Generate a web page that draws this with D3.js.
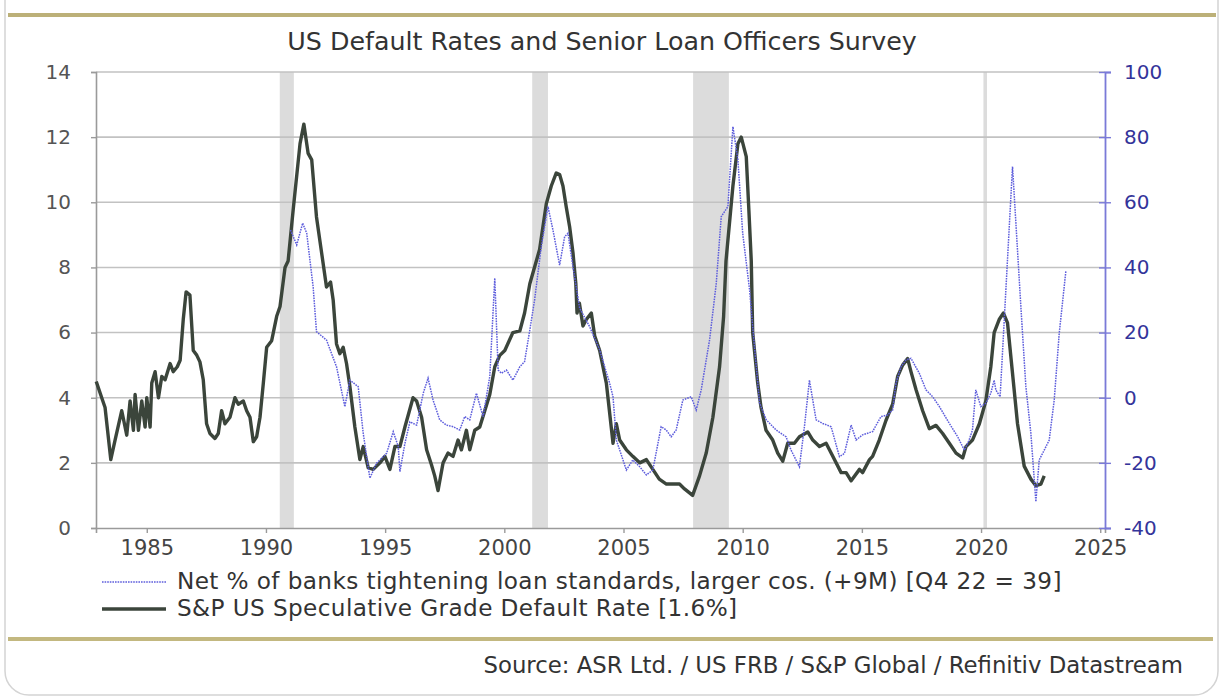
<!DOCTYPE html>
<html>
<head>
  <meta charset="utf-8">
  <script src="https://cdn.jsdelivr.net/npm/d3@7"></script>
  <style>
    body { margin: 0; background: #fff; }
    text { font-family: "DejaVu Sans", Verdana, sans-serif; }
  </style>
</head>
<body>
<script>
// S&P US speculative grade default rate (%), left axis
var defaultYears = [1982.88, 1983.11, 1983.25, 1983.49, 1983.67, 1983.95, 1984.16, 1984.3, 1984.44, 1984.51,
  1984.65, 1984.79, 1984.93, 1985.0, 1985.14, 1985.21, 1985.35, 1985.49, 1985.63, 1985.77,
  1985.98, 1986.11, 1986.28, 1986.4, 1986.53, 1986.65, 1986.81, 1986.95, 1987.1, 1987.23,
  1987.37, 1987.51, 1987.65, 1987.86, 1988.0, 1988.14, 1988.28, 1988.49, 1988.7, 1988.84,
  1989.05, 1989.19, 1989.33, 1989.47, 1989.61, 1989.75, 1989.89, 1990.03, 1990.24, 1990.45,
  1990.59, 1990.8, 1990.93, 1991.14, 1991.43, 1991.59, 1991.77, 1991.92, 1992.12, 1992.54,
  1992.71, 1992.82, 1992.96, 1993.1, 1993.24, 1993.38, 1993.52, 1993.73, 1993.94, 1994.08,
  1994.29, 1994.5, 1994.78, 1994.99, 1995.2, 1995.41, 1995.62, 1995.83, 1996.17, 1996.32,
  1996.53, 1996.74, 1996.94, 1997.08, 1997.22, 1997.43, 1997.64, 1997.85, 1998.06, 1998.2,
  1998.41, 1998.55, 1998.76, 1998.97, 1999.18, 1999.39, 1999.6, 1999.81, 2000.02, 2000.36,
  2000.65, 2000.85, 2001.07, 2001.48, 2001.76, 2001.97, 2002.18, 2002.32, 2002.46, 2002.6,
  2002.74, 2002.88, 2003.0, 2003.05, 2003.15, 2003.3, 2003.44, 2003.65, 2003.79, 2004.0,
  2004.28, 2004.56, 2004.7, 2004.84, 2005.12, 2005.39, 2005.68, 2005.96, 2006.23, 2006.5,
  2006.8, 2007.35, 2007.56, 2007.9, 2008.19, 2008.47, 2008.75, 2009.03, 2009.2, 2009.3,
  2009.59, 2009.8, 2009.94, 2010.15, 2010.26, 2010.36, 2010.42, 2010.63, 2010.77, 2010.98,
  2011.26, 2011.47, 2011.68, 2011.89, 2012.17, 2012.38, 2012.73, 2012.94, 2013.22, 2013.5,
  2013.78, 2014.13, 2014.34, 2014.55, 2014.9, 2015.03, 2015.32, 2015.45, 2015.73, 2016.01,
  2016.29, 2016.5, 2016.71, 2016.92, 2017.06, 2017.27, 2017.55, 2017.83, 2018.11, 2018.39,
  2018.67, 2018.95, 2019.23, 2019.37, 2019.64, 2019.93, 2020.2, 2020.41, 2020.55, 2020.76,
  2020.94, 2021.11, 2021.32, 2021.53, 2021.81, 2022.09, 2022.3, 2022.51, 2022.65];
var defaultRate = [4.5, 4.0, 3.7, 2.1, 2.7, 3.6, 2.85, 3.9, 3.0, 4.1,
  3.0, 3.9, 3.1, 4.0, 3.1, 4.45, 4.8, 4.0, 4.65, 4.55,
  5.05, 4.8, 4.95, 5.15, 6.4, 7.25, 7.15, 5.45, 5.3, 5.1,
  4.55, 3.2, 2.9, 2.75, 2.9, 3.6, 3.2, 3.4, 4.0, 3.8,
  3.9, 3.6, 3.4, 2.65, 2.8, 3.4, 4.45, 5.55, 5.75, 6.5,
  6.8, 8.0, 8.2, 9.75, 11.8, 12.4, 11.5, 11.3, 9.55, 7.4,
  7.55, 7.0, 5.65, 5.35, 5.55, 5.05, 4.35, 3.1, 2.1, 2.5,
  1.85, 1.8, 2.0, 2.2, 1.8, 2.5, 2.5, 3.1, 4.0, 3.9,
  3.4, 2.4, 1.95, 1.6, 1.15, 2.0, 2.3, 2.2, 2.7, 2.4,
  3.0, 2.4, 3.0, 3.1, 3.6, 4.1, 4.95, 5.3, 5.45, 6.0,
  6.05, 6.6, 7.5, 8.55, 9.95, 10.5, 10.9, 10.85, 10.5, 9.85,
  9.25, 8.45, 7.5, 6.6, 6.9, 6.2, 6.4, 6.6, 5.9, 5.45,
  4.45, 2.6, 3.2, 2.7, 2.4, 2.2, 2.0, 2.1, 1.8, 1.5,
  1.35, 1.35, 1.2, 1.0, 1.6, 2.3, 3.4, 4.95, 6.5, 8.2,
  10.5, 11.8, 12.0, 11.4, 9.75, 8.2, 6.0, 4.45, 3.7, 3.0,
  2.7, 2.3, 2.05, 2.6, 2.6, 2.8, 2.95, 2.7, 2.5, 2.6,
  2.2, 1.7, 1.7, 1.45, 1.8, 1.7, 2.1, 2.2, 2.7, 3.3,
  3.8, 4.65, 5.0, 5.2, 4.8, 4.25, 3.6, 3.05, 3.15, 2.9,
  2.6, 2.3, 2.15, 2.5, 2.7, 3.2, 3.9, 4.95, 6.0, 6.4,
  6.6, 6.3, 4.75, 3.2, 1.9, 1.5, 1.3, 1.35, 1.6];

// Net % of banks tightening standards, larger firms, shifted +9M (right axis)
var surveyYears = [1991.03, 1991.29, 1991.54, 1991.71, 1991.98, 1992.12, 1992.54, 1992.96, 1993.31, 1993.52,
  1993.87, 1994.08, 1994.36, 1994.64, 1995.06, 1995.34, 1995.55, 1995.62, 1995.83, 1996.04,
  1996.32, 1996.6, 1996.8, 1997.01, 1997.29, 1997.57, 1997.85, 1998.13, 1998.34, 1998.55,
  1998.83, 1999.11, 1999.39, 1999.6, 1999.74, 1999.88, 2000.09, 2000.36, 2000.65, 2000.85,
  2001.07, 2001.27, 2001.55, 2001.83, 2002.04, 2002.32, 2002.53, 2002.67, 2002.88, 2003.16,
  2003.58, 2004.0, 2004.42, 2004.56, 2004.7, 2005.12, 2005.39, 2005.68, 2005.96, 2006.23,
  2006.58, 2006.79, 2007.0, 2007.21, 2007.49, 2007.84, 2008.05, 2008.26, 2008.61, 2008.89,
  2009.1, 2009.38, 2009.59, 2009.8, 2010.0, 2010.29, 2010.42, 2010.71, 2010.99, 2011.4,
  2011.82, 2012.03, 2012.38, 2012.59, 2012.8, 2013.08, 2013.36, 2013.71, 2014.06, 2014.27,
  2014.55, 2014.76, 2015.03, 2015.45, 2015.8, 2016.08, 2016.29, 2016.43, 2016.64, 2016.85,
  2017.06, 2017.41, 2017.69, 2017.97, 2018.25, 2018.67, 2019.02, 2019.3, 2019.5, 2019.64,
  2019.78, 2019.99, 2020.2, 2020.41, 2020.55, 2020.62, 2020.8, 2021.32, 2021.67, 2021.88,
  2022.09, 2022.3, 2022.44, 2022.65, 2022.86, 2023.07, 2023.28, 2023.56];
var surveyNet = [51.5, 46.9, 53.6, 50.5, 34, 20.3, 17.7, 9.5, -2.75, 5.4,
  3.4, -10.9, -24.7, -20.1, -17.1, -10.4, -15, -22.7, -14, -7.4,
  -8.4, 1.4, 6.0, -0.7, -6.8, -8.4, -8.9, -9.9, -5.8, -6.8,
  1.4, -5.8, 6.5, 36.7, 8.5, 7.5, 8.5, 5.4, 9.5, 11.1,
  20.8, 30, 46.4, 58.7, 51.5, 40.7, 49.4, 50.5, 40.2, 27.5,
  21.8, 14.7, 4.4, 0.3, -13, -22.2, -19.1, -21.2, -23.7, -22.2,
  -8.9, -9.9, -12, -9.9, -0.7, 0.3, -3.8, 2.4, 17.7, 35,
  55.6, 58.7, 83.2, 73, 50.5, 33.1, 21.8, -1.7, -6.8, -9.9,
  -12, -16.1, -21.2, -8.9, 5.4, -6.8, -7.9, -8.9, -18.1, -17.1,
  -8.4, -13, -11.4, -10.4, -5.8, -5.3, -3.8, 4.4, 9.5, 11.6,
  12.1, 7.5, 2.4, 0.3, -2.7, -7.9, -12, -16.1, -13, -9.9,
  2.4, -2.7, -1.7, 1.4, 5.4, 2.4, 0.3, 71, 28, 3.4,
  -10.9, -31.9, -19.1, -16.1, -13, -0.7, 19.8, 39];

// NBER recessions [start, end]
var recessionStart = [1990.58, 2001.17, 2007.92, 2020.1];
var recessionEnd = [1991.17, 2001.83, 2009.42, 2020.25];

var xTicks = [1985, 1990, 1995, 2000, 2005, 2010, 2015, 2020, 2025];
var leftTicks = [0, 2, 4, 6, 8, 10, 12, 14];
var rightTicks = [-40, -20, 0, 20, 40, 60, 80, 100];

var chartTitle = "US Default Rates and Senior Loan Officers Survey";
var legendLabels = ["Net % of banks tightening loan standards, larger cos. (+9M) [Q4 22 = 39]",
  "S&P US Speculative Grade Default Rate [1.6%]"];
var sourceText = "Source: ASR Ltd. / US FRB / S&P Global / Refinitiv Datastream";

var W = 1223, H = 698;
var plotL = 96, plotR = 1105, plotT = 72, plotB = 528;

var svg = d3.select("body").append("svg")
  .attr("width", W).attr("height", H);

// card frame
svg.append("rect")
  .attr("x", 5).attr("y", -30).attr("width", 1213).attr("height", 725)
  .attr("rx", 24)
  .attr("fill", "#fff").attr("stroke", "#d4d4d4").attr("stroke-width", 1.5);

// gold rules
svg.append("line").attr("x1", 8).attr("x2", 1216).attr("y1", 15).attr("y2", 15)
  .attr("stroke", "#bcb078").attr("stroke-width", 4);
svg.append("line").attr("x1", 8).attr("x2", 1213).attr("y1", 639).attr("y2", 639)
  .attr("stroke", "#c3b880").attr("stroke-width", 4);

var x = d3.scaleLinear().domain([1982.87, 2025.2]).range([plotL, plotR]);
var yL = d3.scaleLinear().domain([0, 14]).range([plotB, plotT]);
var yR = d3.scaleLinear().domain([-40, 100]).range([plotB, plotT]);

// recession shading
svg.append("g").selectAll("rect")
  .data(recessionStart)
  .enter().append("rect")
  .attr("x", function (d) { return x(d); })
  .attr("y", plotT)
  .attr("width", function (d, i) { return Math.max(3, x(recessionEnd[i]) - x(d)); })
  .attr("height", plotB - plotT)
  .attr("fill", "#dcdcdc");

// gridlines
svg.append("g").selectAll("line")
  .data(leftTicks.filter(function (d) { return d > 0; }))
  .enter().append("line")
  .attr("x1", plotL).attr("x2", plotR)
  .attr("y1", function (d) { return yL(d); })
  .attr("y2", function (d) { return yL(d); })
  .attr("stroke", "#c2c2c2").attr("stroke-width", 1.6);

// axes
var xAxis = svg.append("g")
  .attr("transform", "translate(0," + plotB + ")")
  .call(d3.axisBottom(x).tickValues(xTicks).tickFormat(d3.format("d")).tickSize(5).tickPadding(6));
var leftAxis = svg.append("g")
  .attr("transform", "translate(" + plotL + ",0)")
  .call(d3.axisLeft(yL).tickValues(leftTicks).tickSize(5).tickPadding(20));
var rightAxis = svg.append("g")
  .attr("transform", "translate(" + plotR + ",0)")
  .call(d3.axisRight(yR).tickValues(rightTicks)
    .tickFormat(function (d) { return String(d); })
    .tickSize(6).tickPadding(13));

xAxis.select(".domain").attr("stroke", "#9a9a9a").attr("stroke-width", 1.6);
leftAxis.select(".domain").attr("stroke", "#9a9a9a").attr("stroke-width", 1.6);
xAxis.selectAll(".tick line").attr("stroke", "#9a9a9a").attr("stroke-width", 1.4);
leftAxis.selectAll(".tick line").attr("stroke", "#9a9a9a").attr("stroke-width", 1.4);
rightAxis.select(".domain").attr("stroke", "#7a7ad8").attr("stroke-width", 1.8);
rightAxis.selectAll(".tick line").attr("stroke", "#7a7ad8").attr("stroke-width", 1.4)
  .attr("x1", -6);

xAxis.selectAll("text").attr("font-size", 21).attr("fill", "#444")
  .style("font-family", "'DejaVu Sans', sans-serif").attr("dy", "0.75em");
leftAxis.selectAll("text").attr("font-size", 20).attr("fill", "#555")
  .style("font-family", "'DejaVu Sans', sans-serif");
rightAxis.selectAll("text").attr("font-size", 20).attr("fill", "#34349a")
  .style("font-family", "'DejaVu Sans', sans-serif");

// series
var lineL = d3.line()
  .x(function (d) { return x(d[0]); })
  .y(function (d) { return yL(d[1]); });
var lineR = d3.line()
  .x(function (d) { return x(d[0]); })
  .y(function (d) { return yR(d[1]); });

svg.append("path")
  .datum(defaultYears.map(function (d, i) { return [d, defaultRate[i]]; }))
  .attr("d", lineL)
  .attr("fill", "none")
  .attr("stroke", "#3b453b")
  .attr("stroke-width", 3.4)
  .attr("stroke-linejoin", "round");

svg.append("path")
  .datum(surveyYears.map(function (d, i) { return [d, surveyNet[i]]; }))
  .attr("d", lineR)
  .attr("fill", "none")
  .attr("stroke", "#5d5ddc")
  .attr("stroke-width", 1.5)
  .attr("stroke-dasharray", "1.6,1");

// fit text to a width
function fit(sel, width) {
  var base = +sel.attr("font-size");
  var len = sel.node().getComputedTextLength();
  sel.attr("font-size", base * width / len);
}

// title
var t = svg.append("text")
  .attr("x", 602).attr("y", 43)
  .attr("text-anchor", "middle")
  .attr("dominant-baseline", "middle")
  .attr("font-size", 21).attr("fill", "#333")
  .text(chartTitle);
fit(t, 630);

// legend
var legendY = [582, 609];
svg.append("line")
  .attr("x1", 102).attr("x2", 166).attr("y1", legendY[0]).attr("y2", legendY[0])
  .attr("stroke", "#5d5ddc").attr("stroke-width", 1.5).attr("stroke-dasharray", "1.6,1");
svg.append("line")
  .attr("x1", 102).attr("x2", 166).attr("y1", legendY[1]).attr("y2", legendY[1])
  .attr("stroke", "#3b453b").attr("stroke-width", 3.4);
var lg = svg.selectAll(".legend-text")
  .data(legendLabels)
  .enter().append("text")
  .attr("class", "legend-text")
  .attr("x", 177)
  .attr("y", function (d, i) { return legendY[i]; })
  .attr("dominant-baseline", "middle")
  .attr("font-size", 20).attr("fill", "#333")
  .attr("letter-spacing", 0.4)
  .text(function (d) { return d; });
var lgFirst = d3.select(lg.nodes()[0]);
fit(lgFirst, 890);
lg.attr("font-size", lgFirst.attr("font-size"));

// source
var s = svg.append("text")
  .attr("x", 1183).attr("y", 666)
  .attr("text-anchor", "end")
  .attr("dominant-baseline", "middle")
  .attr("font-size", 20).attr("fill", "#333")
  .text(sourceText);
fit(s, 700);
</script>
</body>
</html>
